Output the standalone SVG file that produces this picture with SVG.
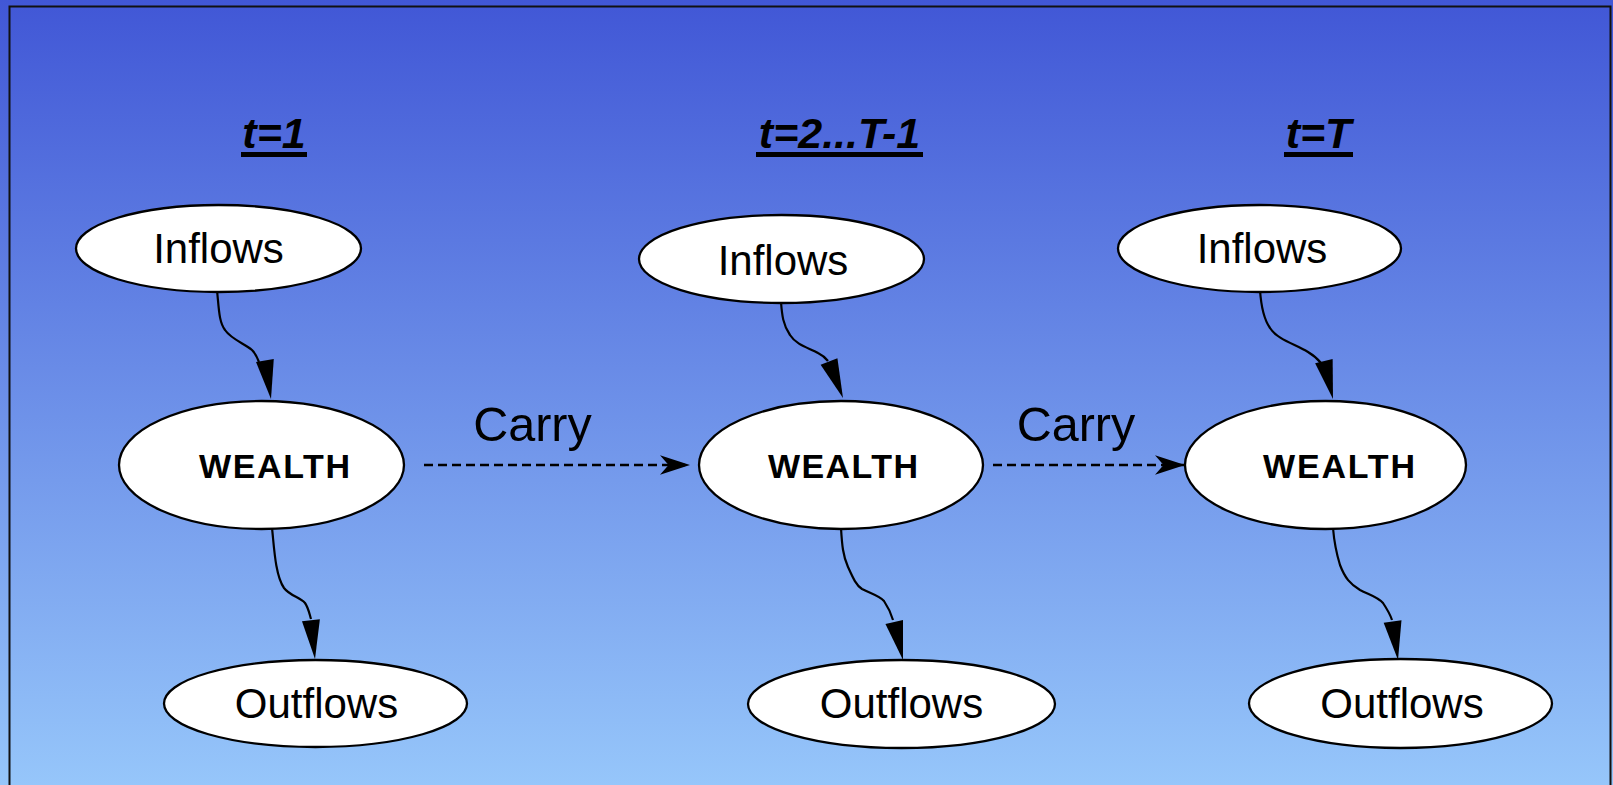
<svg xmlns="http://www.w3.org/2000/svg" xmlns:xlink="http://www.w3.org/1999/xlink" width="1613" height="785" viewBox="0 0 1613 785">
<defs>
<linearGradient id="bg" x1="0" y1="0" x2="0" y2="1">
<stop offset="0" stop-color="#4157D6"/>
<stop offset="1" stop-color="#96C6FA"/>
</linearGradient>
<polygon id="ah" points="0,0 -39,-9 -39,9" fill="#000"/>
<marker id="vee" markerUnits="userSpaceOnUse" markerWidth="30" markerHeight="20" viewBox="0 0 28 18" refX="28" refY="9" orient="auto">
<path d="M0,0 L28,9 L0,18 L8,9 Z" fill="#000"/>
</marker>
<style>
.node{fill:#fff;stroke:#000;stroke-width:2.3}
.lbl{font-family:"Liberation Sans",Arial,sans-serif;font-size:42px;fill:#000;text-anchor:middle}
.wl{font-family:"Liberation Sans",Arial,sans-serif;font-size:34px;font-weight:bold;fill:#000;text-anchor:middle}
.title{font-family:"Liberation Sans",Arial,sans-serif;font-size:43px;font-weight:bold;font-style:italic;fill:#000;text-anchor:middle}
.carry{font-family:"Liberation Sans",Arial,sans-serif;font-size:48.5px;fill:#000;text-anchor:middle}
.edge{fill:none;stroke:#000;stroke-width:2.2}
.dash{fill:none;stroke:#000;stroke-width:2.4;stroke-dasharray:9 5}
</style>
</defs>
<rect x="0" y="0" width="1613" height="785" fill="url(#bg)"/>
<rect x="9.5" y="6.5" width="1601" height="800" fill="none" stroke="#111" stroke-width="2"/>

<g id="titles">
<text class="title" x="274" y="148">t=1</text>
<rect x="241" y="152" width="66" height="5" fill="#000"/>
<text class="title" x="839.5" y="148">t=2...T-1</text>
<rect x="756" y="152" width="167" height="5" fill="#000"/>
<text class="title" x="1318.5" y="148">t=T</text>
<rect x="1284" y="152" width="69" height="5" fill="#000"/>
</g>

<g id="connectors">
<path class="edge" d="M217,290 C219,310 219,322 225,330 C231,339 245,344 252,350 C255,353 257,357 259,362"/>
<use xlink:href="#ah" transform="translate(271,399) rotate(81)"/>
<path class="edge" d="M781,302 C782,315 783,325 790,335 C797,346 810,348 818,353 C822,355 825,357 828,361"/>
<use xlink:href="#ah" transform="translate(843,398) rotate(69)"/>
<path class="edge" d="M1260,290 C1261,305 1263,318 1270,328 C1278,340 1295,344 1308,352 C1313,355 1317,358 1321,363"/>
<use xlink:href="#ah" transform="translate(1333,399) rotate(76.5)"/>
<path class="edge" d="M272,528 C274,545 275,575 284,588 C290,596 300,597 305,603 C308,607 309,612 311,619"/>
<use xlink:href="#ah" transform="translate(315,659) rotate(84)"/>
<path class="edge" d="M841,528 C842,545 843,556 848,567 C853,578 856,585 862,589 C872,594 880,596 884,601 C888,607 891,613 893,620"/>
<use xlink:href="#ah" transform="translate(903,660) rotate(77)"/>
<path class="edge" d="M1333,528 C1334,540 1336,552 1340,565 C1345,578 1350,584 1360,590 C1370,595 1378,597 1383,603 C1387,609 1390,614 1392,620"/>
<use xlink:href="#ah" transform="translate(1398,660) rotate(82)"/>
<path class="dash" d="M424,465 L690,465" marker-end="url(#vee)"/>
<path class="dash" d="M993,465 L1185,465" marker-end="url(#vee)"/>
<text class="carry" x="532.5" y="441">Carry</text>
<text class="carry" x="1076" y="441">Carry</text>
</g>

<g id="inflows1"><ellipse class="node" cx="218.5" cy="248.5" rx="142.5" ry="43.5"/><text class="lbl" x="218.5" y="263">Inflows</text></g>
<g id="inflows2"><ellipse class="node" cx="781.5" cy="259" rx="142.5" ry="44"/><text class="lbl" x="783" y="275">Inflows</text></g>
<g id="inflows3"><ellipse class="node" cx="1259.5" cy="248.5" rx="141.5" ry="43.5"/><text class="lbl" x="1262" y="263">Inflows</text></g>

<g id="wealth1"><ellipse class="node" cx="261.5" cy="465" rx="142.5" ry="64"/><text class="wl" x="274.5" y="478" textLength="151" lengthAdjust="spacing">WEALTH</text></g>
<g id="wealth2"><ellipse class="node" cx="841" cy="465" rx="142" ry="64"/><text class="wl" x="843" y="478" textLength="150" lengthAdjust="spacing">WEALTH</text></g>
<g id="wealth3"><ellipse class="node" cx="1325.5" cy="465" rx="140.5" ry="64"/><text class="wl" x="1339" y="478" textLength="152" lengthAdjust="spacing">WEALTH</text></g>

<g id="outflows1"><ellipse class="node" cx="315.5" cy="703.5" rx="151.5" ry="43.5"/><text class="lbl" x="316.5" y="718">Outflows</text></g>
<g id="outflows2"><ellipse class="node" cx="901.5" cy="704" rx="153.5" ry="44"/><text class="lbl" x="901.5" y="718">Outflows</text></g>
<g id="outflows3"><ellipse class="node" cx="1400.5" cy="703.5" rx="151.5" ry="44.5"/><text class="lbl" x="1402" y="718">Outflows</text></g>
</svg>
